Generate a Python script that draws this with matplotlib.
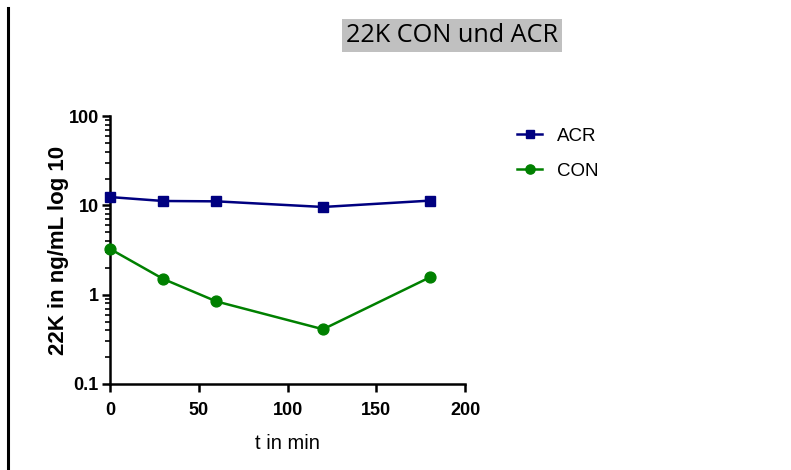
import matplotlib.pyplot as plt
from matplotlib.lines import Line2D
from matplotlib.ticker import LogLocator, FixedLocator, NullFormatter

t_min = [0, 30, 60, 120, 180]
acr = [12.4, 11.2, 11.1, 9.6, 11.3]
con = [3.26, 1.5, 0.84, 0.41, 1.56]

plt.rcParams['font.family'] = ['Liberation Sans', 'DejaVu Sans']

fig = plt.figure(figsize=(7.91, 4.70), dpi=100)
ax = fig.add_axes([0.139, 0.183, 0.449, 0.570])

ax.plot(t_min, acr, color='#000080', lw=1.8, marker='s', ms=7.5, label='ACR', clip_on=False, zorder=3)
ax.plot(t_min, con, color='#008000', lw=1.8, marker='o', ms=7.8, label='CON', clip_on=False, zorder=3)

ax.set_yscale('log')
ax.set_ylim(0.1, 100)
ax.set_xlim(0, 200)
ax.xaxis.set_major_locator(FixedLocator([0, 50, 100, 150, 200]))
ax.yaxis.set_major_locator(FixedLocator([0.1, 1, 10, 100]))
ax.set_yticklabels(['0.1', '1', '10', '100'])
ax.yaxis.set_minor_locator(LogLocator(base=10, subs=range(2, 10)))
ax.yaxis.set_minor_formatter(NullFormatter())

for s in ['top', 'right']:
    ax.spines[s].set_visible(False)
for s in ['left', 'bottom']:
    ax.spines[s].set_linewidth(1.8)

ax.tick_params(axis='both', which='major', width=1.8, length=6, labelsize=13)
ax.tick_params(axis='x', which='major', pad=7)
ax.tick_params(axis='y', which='major', pad=2)
ax.tick_params(axis='y', which='minor', width=1.2, length=3.5)
for lab in ax.get_xticklabels() + ax.get_yticklabels():
    lab.set_fontweight('bold')

ax.set_xlabel('t in min', fontsize=14.5, labelpad=11)
ax.set_ylabel('22K in ng/mL log 10', fontsize=16, fontweight='bold', labelpad=0)

ax.legend(loc='upper left', bbox_to_anchor=(1.1, 1.02), frameon=False, fontsize=13.5,
          handlelength=1.3, handletextpad=0.8, labelspacing=0.95, markerscale=0.85)

fig.text(0.571, 0.925, '22K CON und ACR', fontsize=18.2, family=['Open Sans', 'DejaVu Sans'],
         ha='center', va='center',
         bbox=dict(facecolor='#c0c0c0', edgecolor='none', pad=3))

fig.add_artist(Line2D([0.0105, 0.0105], [0.0, 0.983], color='black', lw=2.2, transform=fig.transFigure))

fig.savefig('out.png', dpi=100)
